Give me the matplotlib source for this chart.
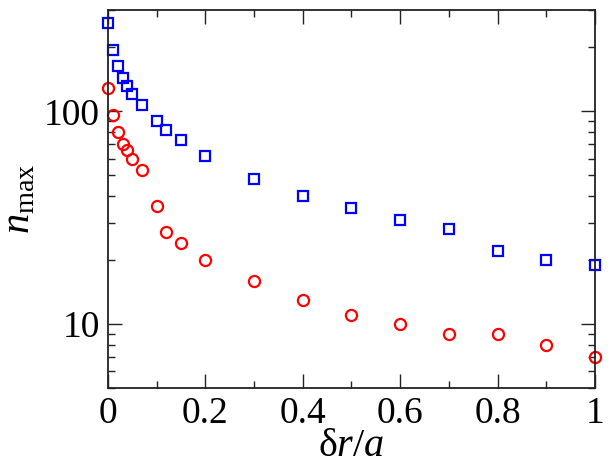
import matplotlib
matplotlib.use('Agg')
import matplotlib.pyplot as plt
from matplotlib.ticker import LogLocator, MultipleLocator, NullFormatter, FixedLocator

plt.rcParams['font.family'] = ['Liberation Serif', 'DejaVu Serif']
plt.rcParams['mathtext.fontset'] = 'custom'
plt.rcParams['mathtext.rm'] = 'Liberation Serif'
plt.rcParams['mathtext.it'] = 'Liberation Serif:italic'

# data
dr_sq = [0, 0.01, 0.02, 0.03, 0.04, 0.05, 0.07, 0.1, 0.12, 0.15, 0.2,
         0.3, 0.4, 0.5, 0.6, 0.7, 0.8, 0.9, 1.0]
n_sq = [262, 195, 163, 143, 131, 121, 107, 90, 82, 73, 62,
        48, 40, 35, 31, 28, 22, 20, 19]

dr_ci = [0, 0.01, 0.02, 0.03, 0.04, 0.05, 0.07, 0.1, 0.12, 0.15, 0.2,
         0.3, 0.4, 0.5, 0.6, 0.7, 0.8, 0.9, 1.0]
n_ci = [129, 96, 80, 70, 66, 60, 53, 36, 27, 24, 20,
        16, 13, 11, 10, 9, 9, 8, 7]

fig = plt.figure(figsize=(6.13, 4.65), dpi=100)
ax = fig.add_axes([0.1762, 0.1656, 0.7944, 0.8129])

ax.plot(dr_sq, n_sq, 's', ms=7, mfc='none', mec='#0000ff', mew=1.6, clip_on=False)
ax.plot(dr_ci, n_ci, 'o', ms=8, mfc='none', mec='#ff0000', mew=1.6, clip_on=False)

ax.set_yscale('log')
ax.set_xlim(0, 1)
ax.set_ylim(5, 300)

ax.xaxis.set_major_locator(MultipleLocator(0.2))
ax.xaxis.set_minor_locator(MultipleLocator(0.1))
ax.set_xticklabels(['0', '0.2', '0.4', '0.6', '0.8', '1'])
ax.set_xticks([0, 0.2, 0.4, 0.6, 0.8, 1.0])
ax.set_xticklabels(['0', '0.2', '0.4', '0.6', '0.8', '1'])

ax.yaxis.set_major_locator(FixedLocator([10, 100]))
ax.yaxis.set_minor_locator(LogLocator(base=10, subs=range(2, 10)))
ax.yaxis.set_minor_formatter(NullFormatter())
ax.set_yticklabels(['10', '100'])

ax.tick_params(which='both', direction='in', top=True, right=True,
               labelsize=27, width=1.0, color='#222222')
ax.tick_params(which='major', length=10, pad=6)
ax.tick_params(which='minor', length=5)
for s in ax.spines.values():
    s.set_linewidth(1.3)
    s.set_color('#222222')

ax.set_xlabel(r'$\mathrm{\delta}r/a$', fontsize=29, labelpad=-2)
ax.set_ylabel(r'$n_{\mathrm{max}}$', fontsize=29, labelpad=4)

fig.savefig('out.png', dpi=100)
